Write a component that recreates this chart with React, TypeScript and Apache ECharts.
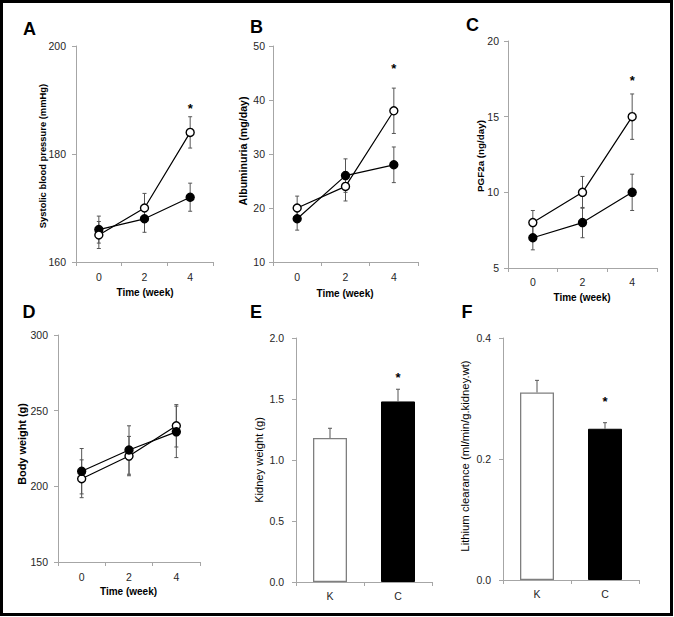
import React, { useEffect, useRef } from "react";
import * as echarts from "echarts";

// ---- data ----
const weeks = ["0", "2", "4"];
const groups = ["K", "C"];

const sbpOpen = [165, 170, 184];
const sbpOpenErr = [2.5, 2.7, 2.9];
const sbpFilled = [166, 168, 172];
const sbpFilledErr = [2.5, 2.5, 2.6];
const sbpStar = [null, null, 189];

const albOpen = [20, 24, 38];
const albOpenErr = [2.2, 2.7, 4.2];
const albFilled = [18, 26, 28];
const albFilledErr = [2.1, 3.1, 3.3];
const albStar = [null, null, 46.4];

const pgfOpen = [8, 10, 15];
const pgfOpenErr = [0.8, 1.05, 1.5];
const pgfFilled = [7, 8, 10];
const pgfFilledErr = [0.8, 1.0, 1.2];
const pgfStar = [null, null, 17.6];

const bwOpen = [205, 220, 240];
const bwOpenErr = [12.5, 13, 14];
const bwFilled = [210, 224, 236];
const bwFilledErr = [15, 16, 17];

const kidneyWeight = [1.18, 1.48];
const kidneyErr = [0.08, 0.1];
const kidneyStar = [null, 1.7];

const lithium = [0.31, 0.25];
const lithiumErr = [0.02, 0.01];
const lithiumStar = [null, 0.3];

const FONT = "Liberation Sans, Arial, sans-serif";
const AXIS_COLOR = "#a6a6a6";
const LABEL_COLOR = "#262626";
const ERR_COLOR = "#555";

function errSeries(gi: number, vals: number[], errs: number[], both: boolean) {
  return {
    type: "custom",
    xAxisIndex: gi,
    yAxisIndex: gi,
    z: 2,
    silent: true,
    data: vals.map((v, i) => [i, v, errs[i]]),
    renderItem: (params: any, api: any) => {
      const x = api.value(0);
      const y = api.value(1);
      const e = api.value(2);
      const p = api.coord([x, y]);
      const top = api.coord([x, y + e]);
      const bot = both ? api.coord([x, y - e]) : p;
      const w = 2;
      const style = { stroke: ERR_COLOR, lineWidth: 1 };
      const children: any[] = [
        { type: "line", shape: { x1: p[0], y1: top[1], x2: p[0], y2: bot[1] }, style },
        { type: "line", shape: { x1: p[0] - w, y1: top[1], x2: p[0] + w, y2: top[1] }, style },
      ];
      if (both) {
        children.push({ type: "line", shape: { x1: p[0] - w, y1: bot[1], x2: p[0] + w, y2: bot[1] }, style });
      }
      return { type: "group", children };
    },
  };
}

function starSeries(gi: number, vals: (number | null)[]) {
  const data: any[] = [];
  vals.forEach((v, i) => {
    if (v !== null) data.push([i, v]);
  });
  return {
    type: "custom",
    xAxisIndex: gi,
    yAxisIndex: gi,
    z: 5,
    silent: true,
    data,
    renderItem: (params: any, api: any) => {
      const p = api.coord([api.value(0), api.value(1)]);
      return {
        type: "text",
        x: p[0],
        y: p[1] + 3,
        style: {
          text: "*",
          fontSize: 13,
          fontWeight: "bold",
          fontFamily: FONT,
          fill: "#000",
          align: "center",
          verticalAlign: "middle",
        },
      };
    },
  };
}

function lineSeries(gi: number, vals: number[], filled: boolean, z: number) {
  return {
    type: "line",
    xAxisIndex: gi,
    yAxisIndex: gi,
    z,
    silent: true,
    data: vals,
    symbol: "circle",
    symbolSize: 8,
    showSymbol: true,
    lineStyle: { color: "#000", width: 1.2 },
    itemStyle: { color: filled ? "#000" : "#fff", borderColor: "#000", borderWidth: 1.4 },
    emphasis: { disabled: true },
  };
}

function barSeries(gi: number, vals: number[]) {
  return {
    type: "bar",
    xAxisIndex: gi,
    yAxisIndex: gi,
    z: 1,
    silent: true,
    barWidth: "50%",
    data: vals.map((v, i) => ({
      value: v,
      itemStyle:
        i === 0
          ? { color: "#fff", borderColor: "#7f7f7f", borderWidth: 1.3 }
          : { color: "#000", borderColor: "#000", borderWidth: 1 },
    })),
    emphasis: { disabled: true },
  };
}

function xAx(gi: number, data: string[], margin: number) {
  return {
    gridIndex: gi,
    type: "category",
    data,
    boundaryGap: true,
    axisLine: { show: true, lineStyle: { color: AXIS_COLOR, width: 1 } },
    axisTick: { show: true, length: 4, lineStyle: { color: AXIS_COLOR } },
    splitLine: { show: false },
    axisLabel: { color: LABEL_COLOR, fontSize: 10.5, fontFamily: FONT, margin },
  };
}

function yAx(gi: number, min: number, max: number, interval: number, margin: number, decimals: number) {
  return {
    gridIndex: gi,
    type: "value",
    min,
    max,
    interval,
    axisLine: { show: true, lineStyle: { color: AXIS_COLOR, width: 1 } },
    axisTick: { show: true, length: 4, lineStyle: { color: AXIS_COLOR } },
    splitLine: { show: false },
    axisLabel: {
      color: LABEL_COLOR,
      fontSize: 10.5,
      fontFamily: FONT,
      margin,
      formatter: (v: number) => v.toFixed(decimals),
    },
  };
}

function txt(text: string, x: number, y: number, size: number, bold: boolean, rotate = false) {
  return {
    type: "text",
    x,
    y,
    rotation: rotate ? Math.PI / 2 : 0,
    silent: true,
    style: {
      text,
      fontSize: size,
      fontWeight: bold ? "bold" : "normal",
      fontFamily: FONT,
      fill: "#000",
      align: "center",
      verticalAlign: "middle",
    },
  };
}

export default function App() {
  const ref = useRef<HTMLDivElement>(null);

  useEffect(() => {
    document.body.style.margin = "0";
    const chart = echarts.init(ref.current as HTMLDivElement, null, { renderer: "svg" });
    const option: any = {
      animation: false,
      backgroundColor: "#fff",
      grid: [
        { left: 76, top: 46, width: 137, height: 216 },
        { left: 273, top: 46, width: 145, height: 216 },
        { left: 508, top: 41, width: 149, height: 227 },
        { left: 58, top: 335, width: 142, height: 227 },
        { left: 296, top: 338, width: 136, height: 244 },
        { left: 503, top: 338, width: 136, height: 242 },
      ],
      xAxis: [
        xAx(0, weeks, 9),
        xAx(1, weeks, 9),
        xAx(2, weeks, 8),
        xAx(3, weeks, 9),
        xAx(4, groups, 8),
        xAx(5, groups, 8),
      ],
      yAxis: [
        yAx(0, 160, 200, 20, 10, 0),
        yAx(1, 10, 50, 10, 8, 0),
        yAx(2, 5, 20, 5, 9, 0),
        yAx(3, 150, 300, 50, 10, 0),
        yAx(4, 0, 2, 0.5, 12, 1),
        yAx(5, 0, 0.4, 0.2, 12, 1),
      ],
      series: [
        errSeries(0, sbpFilled, sbpFilledErr, true),
        errSeries(0, sbpOpen, sbpOpenErr, true),
        lineSeries(0, sbpFilled, true, 3),
        lineSeries(0, sbpOpen, false, 4),
        starSeries(0, sbpStar),

        errSeries(1, albFilled, albFilledErr, true),
        errSeries(1, albOpen, albOpenErr, true),
        lineSeries(1, albFilled, true, 3),
        lineSeries(1, albOpen, false, 4),
        starSeries(1, albStar),

        errSeries(2, pgfFilled, pgfFilledErr, true),
        errSeries(2, pgfOpen, pgfOpenErr, true),
        lineSeries(2, pgfFilled, true, 3),
        lineSeries(2, pgfOpen, false, 4),
        starSeries(2, pgfStar),

        errSeries(3, bwFilled, bwFilledErr, true),
        errSeries(3, bwOpen, bwOpenErr, true),
        lineSeries(3, bwOpen, false, 3),
        lineSeries(3, bwFilled, true, 4),

        errSeries(4, kidneyWeight, kidneyErr, false),
        barSeries(4, kidneyWeight),
        starSeries(4, kidneyStar),

        errSeries(5, lithium, lithiumErr, false),
        barSeries(5, lithium),
        starSeries(5, lithiumStar),
      ],
      graphic: [
        {
          type: "rect",
          silent: true,
          shape: { x: 1.5, y: 1.5, width: 670, height: 613 },
          style: { fill: "none", stroke: "#000", lineWidth: 3 },
        },
        txt("A", 29.5, 29, 18, true),
        txt("B", 256.5, 27, 18, true),
        txt("C", 472.5, 24.5, 18, true),
        txt("D", 29, 312, 18, true),
        txt("E", 256, 312, 18, true),
        txt("F", 467, 312, 18, true),

        txt("Systolic blood pressure (mmHg)", 42.5, 156, 9.4, true, true),
        txt("Albuminuria (mg/day)", 243, 151, 10.6, true, true),
        txt("PGF2a (ng/day)", 480, 156, 9.8, true, true),
        txt("Body weight (g)", 22, 444, 10.9, true, true),
        txt("Kidney weight (g)", 259, 460, 11.1, false, true),
        txt("Lithium clearance (ml/min/g.kidney.wt)", 465, 456, 11.3, false, true),

        txt("Time (week)", 145, 292, 10, true),
        txt("Time (week)", 345, 293, 10, true),
        txt("Time (week)", 582, 297, 10, true),
        txt("Time (week)", 128.5, 591.7, 10, true),
      ],
    };
    chart.setOption(option);
    return () => chart.dispose();
  }, []);

  return <div ref={ref} style={{ width: 674, height: 617 }} />;
}
